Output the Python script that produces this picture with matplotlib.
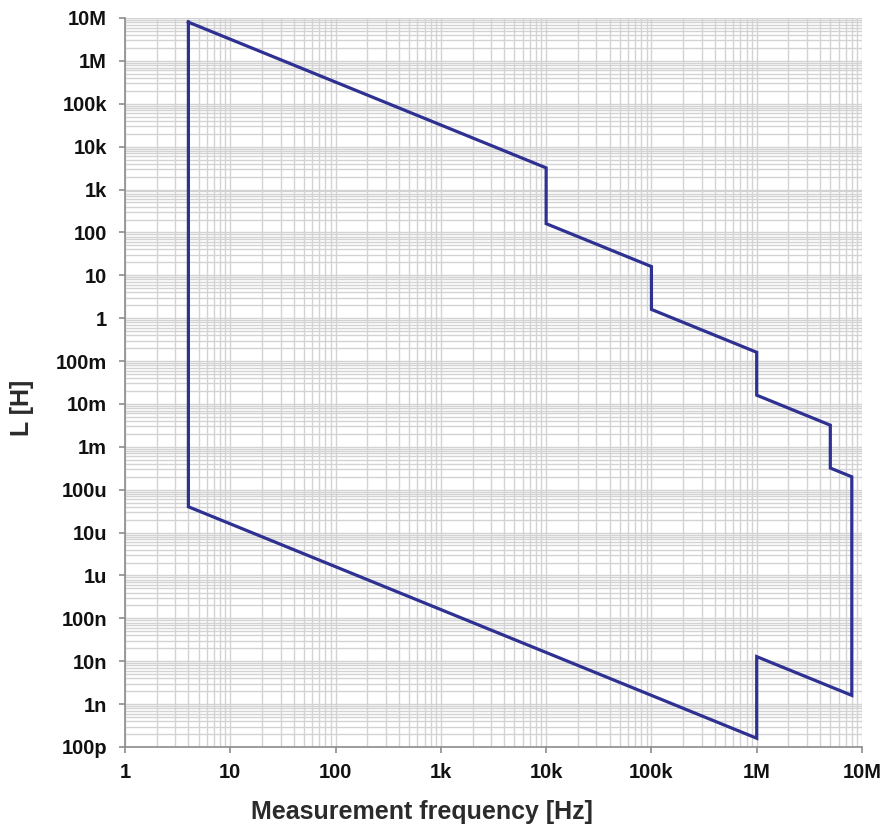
import matplotlib
matplotlib.use("Agg")
import matplotlib.pyplot as plt
from matplotlib.ticker import LogLocator, FixedLocator, FixedFormatter, NullFormatter

plt.rcParams['font.family'] = ['Liberation Sans', 'DejaVu Sans']

# Measurement range boundary (frequency [Hz], inductance [H])
freq = [4, 1e4, 1e4, 1e5, 1e5, 1e6, 1e6, 5e6, 5e6, 8e6, 8e6, 1e6, 1e6, 4, 4]
induct = [8e6, 3.2e3, 160, 16, 1.6, 0.16, 16e-3, 3.2e-3, 320e-6, 200e-6,
          1.6e-9, 12.8e-9, 160e-12, 40e-6, 8e6]

x_ticks = [1, 10, 100, 1e3, 1e4, 1e5, 1e6, 1e7]
x_labels = ["1", "10", "100", "1k", "10k", "100k", "1M", "10M"]
y_ticks = [1e-10, 1e-9, 1e-8, 1e-7, 1e-6, 1e-5, 1e-4, 1e-3, 1e-2, 1e-1,
           1, 10, 100, 1e3, 1e4, 1e5, 1e6, 1e7]
y_labels = ["100p", "1n", "10n", "100n", "1u", "10u", "100u", "1m", "10m", "100m",
            "1", "10", "100", "1k", "10k", "100k", "1M", "10M"]

fig = plt.figure(figsize=(8.87, 8.32), dpi=100)
ax = fig.add_axes([125/887, 1-747/832, (862-125)/887, (747-18)/832])
ax.set_xscale('log')
ax.set_yscale('log')
ax.set_xlim(1, 1e7)
ax.set_ylim(1e-10, 1e7)

ax.plot(freq, induct, color='#2e3192', linewidth=2.3, solid_joinstyle='miter', zorder=3)

ax.xaxis.set_major_locator(FixedLocator(x_ticks))
ax.xaxis.set_major_formatter(FixedFormatter(x_labels))
ax.yaxis.set_major_locator(FixedLocator(y_ticks))
ax.yaxis.set_major_formatter(FixedFormatter(y_labels))
ax.xaxis.set_minor_locator(LogLocator(base=10, subs=range(2, 10), numticks=100))
ax.yaxis.set_minor_locator(LogLocator(base=10, subs=range(2, 10), numticks=100))
ax.xaxis.set_minor_formatter(NullFormatter())
ax.yaxis.set_minor_formatter(NullFormatter())

ax.grid(True, which='both', color='#d3d3d3', linewidth=1.0, zorder=0)
ax.set_axisbelow(True)

for s in ['top', 'right']:
    ax.spines[s].set_visible(False)
for s in ['left', 'bottom']:
    ax.spines[s].set_color('#8c8c8c')
    ax.spines[s].set_linewidth(1.2)

ax.tick_params(which='major', direction='out', length=4.5, width=1.2, color='#8c8c8c',
               labelsize=14.5)
ax.tick_params(axis='x', which='major', pad=7)
ax.tick_params(axis='y', which='major', pad=8.5)
ax.tick_params(which='minor', length=0)
for lab in ax.get_xticklabels() + ax.get_yticklabels():
    lab.set_fontweight('bold')
    lab.set_color('#111111')

ax.set_xlabel("Measurement frequency [Hz]", fontsize=18, fontweight='bold',
              color='#2b2b2b')
ax.xaxis.set_label_coords(0.403, -0.0892)
ax.xaxis.label.set_va('center')
ax.set_ylabel("L [H]", fontsize=18, fontweight='bold', color='#2b2b2b')
ax.yaxis.set_label_coords(-0.1398, 0.465)
ax.yaxis.label.set_va('center')

fig.savefig("out.png", dpi=100)
